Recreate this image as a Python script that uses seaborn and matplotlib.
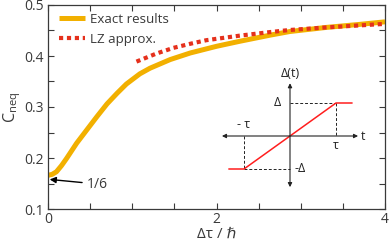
import matplotlib
matplotlib.use("Agg")
import matplotlib.pyplot as plt
import seaborn as sns
from matplotlib.ticker import MultipleLocator

# exact result
exact_x = [0.0, 0.05, 0.1, 0.16, 0.22, 0.34, 0.46, 0.58, 0.70, 0.82, 0.93, 1.09, 1.21,
           1.45, 1.69, 2.0, 2.28, 2.64, 2.87, 3.3, 3.7, 4.0]
exact_y = [0.166, 0.168, 0.173, 0.185, 0.199, 0.229, 0.255, 0.281, 0.306, 0.327, 0.345,
           0.365, 0.376, 0.393, 0.406, 0.419, 0.429, 0.441, 0.448, 0.456, 0.462, 0.467]

# Landau-Zener approximation
lz_x = [1.05, 1.29, 1.49, 1.69, 1.88, 2.28, 2.64, 2.87, 3.3, 3.7, 4.0]
lz_y = [0.389, 0.405, 0.416, 0.424, 0.431, 0.440, 0.447, 0.451, 0.456, 0.460, 0.463]

# inset ramp Delta(t)
ramp_t = [-1.33, -1.0, 1.0, 1.35]
ramp_d = [-1.0, -1.0, 1.0, 1.0]

sns.set_theme(style="ticks")
plt.rcParams["font.family"] = ["Open Sans", "DejaVu Sans"]
plt.rcParams["mathtext.default"] = "regular"

text_col = "#3a3a3a"
orange = "#F2B000"
red = "#E5301C"

fig = plt.figure(figsize=(3.91, 2.43), dpi=100)
ax = fig.add_axes([48 / 391, 34 / 243, 337 / 391, 204 / 243])

sns.lineplot(x=exact_x, y=exact_y, ax=ax, color=orange, lw=3.6,
             label="Exact results", solid_capstyle="butt")
sns.lineplot(x=lz_x, y=lz_y, ax=ax, color=red, lw=3.0,
             label="LZ approx.")
ax.lines[1].set_dashes((1.0, 0.9))

ax.set_xlim(0, 4)
ax.set_ylim(0.1, 0.5)
ax.xaxis.set_major_locator(MultipleLocator(2))
ax.xaxis.set_minor_locator(MultipleLocator(0.5))
ax.yaxis.set_major_locator(MultipleLocator(0.1))
ax.yaxis.set_minor_locator(MultipleLocator(0.05))
ax.set_xticks([0, 2, 4])
ax.set_xticklabels(["0", "2", "4"])
ax.tick_params(which="both", direction="in", top=True, right=True,
               length=4, width=0.8, color=text_col, labelsize=10,
               labelcolor=text_col)
ax.tick_params(axis="x", pad=2)
ax.tick_params(axis="y", pad=3)
for s in ax.spines.values():
    s.set_color(text_col)
    s.set_linewidth(0.9)

ax.set_xlabel("Δτ / ℏ", fontsize=11, color=text_col, labelpad=0)
ax.set_ylabel("$C_{neq}$", fontsize=11.5, color=text_col, labelpad=1)

leg = ax.legend(loc="upper left", frameon=False, fontsize=9.6,
                handlelength=1.9, handletextpad=0.4, labelspacing=0.5,
                borderaxespad=0.2, bbox_to_anchor=(0.01, 1.0))
for t in leg.get_texts():
    t.set_color(text_col)

ax.annotate("1/6", xy=(0.02, 0.158), xytext=(0.46, 0.149),
            fontsize=10, color=text_col, va="center",
            arrowprops=dict(arrowstyle="-|>", color="black", lw=1.0,
                            mutation_scale=9, shrinkA=1, shrinkB=0))

# inset sketch of the gap ramp
ux, uy = 46, 33
cx, cy = 290, 243 - 136
ins = fig.add_axes([(cx - 1.6 * ux) / 391, (cy - 1.75 * uy) / 243,
                    3.2 * ux / 391, 3.75 * uy / 243])
ins.set_xlim(-1.6, 1.6)
ins.set_ylim(-1.75, 2.0)
ins.axis("off")
ins.patch.set_alpha(0)

arrow = dict(arrowstyle="<|-|>", color="#222222", lw=0.8,
             mutation_scale=6, shrinkA=0, shrinkB=0)
ins.annotate("", xy=(1.48, 0), xytext=(-1.48, 0), arrowprops=arrow)
ins.annotate("", xy=(0, 1.6), xytext=(0, -1.55), arrowprops=arrow)

dash = dict(color="#222222", lw=0.7, ls=(0, (3, 2)))
ins.plot([-1, -1], [0, -1], **dash)
ins.plot([-1, 0], [-1, -1], **dash)
ins.plot([0, 1], [1, 1], **dash)
ins.plot([1, 1], [1, 0], **dash)

ins.plot(ramp_t, ramp_d, color="#FF1E1E", lw=1.1)

fs = 9
ins.text(0, 1.7, "Δ(t)", ha="center", va="bottom", fontsize=fs, color="#222222")
ins.text(1.55, 0, "t", ha="left", va="center", fontsize=fs, color="#222222")
ins.text(-0.2, 1.0, "Δ", ha="right", va="center", fontsize=fs, color="#222222")
ins.text(0.1, -1.0, "-Δ", ha="left", va="center", fontsize=fs, color="#222222")
ins.text(-1.0, 0.15, "- τ", ha="center", va="bottom", fontsize=fs, color="#222222")
ins.text(1.0, -0.1, "τ", ha="center", va="top", fontsize=fs, color="#222222")

fig.savefig("out.png", dpi=100)
